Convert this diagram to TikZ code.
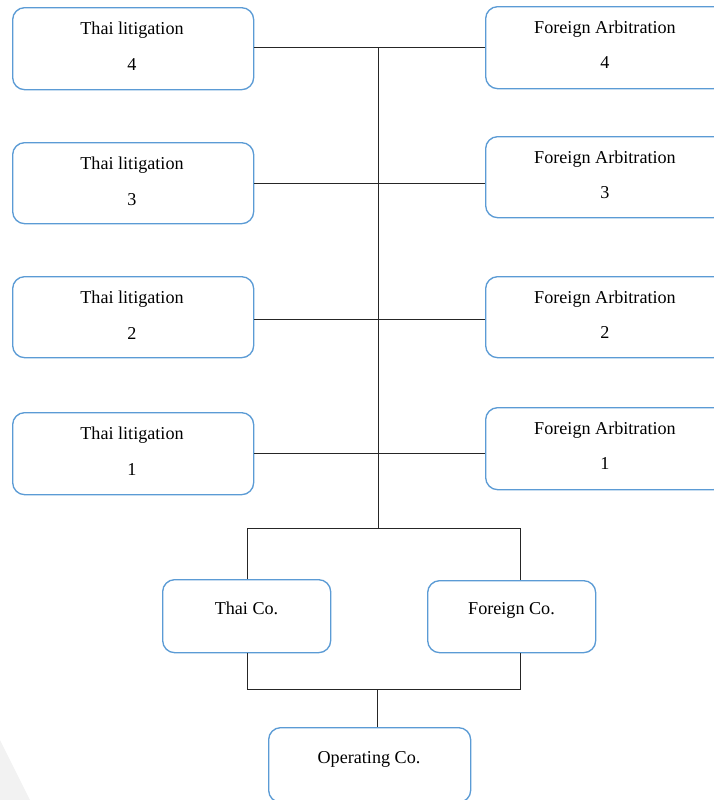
\documentclass[tikz,border=0pt]{standalone}
\usepackage{fontspec}
\setmainfont{Liberation Serif}
\definecolor{boxblue}{HTML}{5B9BD5}
\definecolor{bggrey}{HTML}{F2F2F2}
\begin{document}
\begin{tikzpicture}[x=0.75pt,y=-0.75pt,
  box/.style={draw=boxblue, line width=1pt, rounded corners=9pt, fill=white, inner sep=0pt, anchor=north west},
  txt/.style={anchor=base, inner sep=0pt, font=\fontsize{13.6pt}{16pt}\selectfont, text=black},
  conn/.style={draw=black!85, line width=0.75pt}]
\useasboundingbox (0,0) rectangle (714,800);
\clip (0,0) rectangle (714,800);
\fill[bggrey] (0,740) -- (30,800) -- (0,800) -- cycle;
% left boxes
\node[box, minimum width=180.75pt, minimum height=61.5pt] (tl4) at (12,7) {};
\node[box, minimum width=180.75pt, minimum height=60.75pt] (tl3) at (12,142) {};
\node[box, minimum width=180.75pt, minimum height=60.75pt] (tl2) at (12,276) {};
\node[box, minimum width=180.75pt, minimum height=61.5pt] (tl1) at (12,412) {};
% right boxes
\node[box, minimum width=180pt, minimum height=61.5pt] (fa4) at (485,6) {};
\node[box, minimum width=180pt, minimum height=60.75pt] (fa3) at (485,136) {};
\node[box, minimum width=180pt, minimum height=60.75pt] (fa2) at (485,276) {};
\node[box, minimum width=180pt, minimum height=61.5pt] (fa1) at (485,407) {};
% company boxes
\node[box, minimum width=126pt, minimum height=54.75pt] (thai) at (162,579) {};
\node[box, minimum width=126pt, minimum height=54pt] (foreign) at (427,580) {};
\node[box, minimum width=151.5pt, minimum height=56pt] (oper) at (268,727) {};
% texts
\node[txt] (tl4a) at (132,34.3) {Thai litigation};
\node[txt] (tl4b) at (132,70) {4};
\node[txt] (tl3a) at (132,169.3) {Thai litigation};
\node[txt] (tl3b) at (132,205) {3};
\node[txt] (tl2a) at (132,303.3) {Thai litigation};
\node[txt] (tl2b) at (132,339) {2};
\node[txt] (tl1a) at (132,439.3) {Thai litigation};
\node[txt] (tl1b) at (132,475) {1};
\node[txt] (fa4a) at (605,33.3) {Foreign Arbitration};
\node[txt] (fa4b) at (605,68.5) {4};
\node[txt] (fa3a) at (605,163.3) {Foreign Arbitration};
\node[txt] (fa3b) at (605,198.5) {3};
\node[txt] (fa2a) at (605,303.3) {Foreign Arbitration};
\node[txt] (fa2b) at (605,338.5) {2};
\node[txt] (fa1a) at (605,434.3) {Foreign Arbitration};
\node[txt] (fa1b) at (605,469.5) {1};
\node[txt] (thait) at (246.5,614) {Thai Co.};
\node[txt] (foreignt) at (511.5,614) {Foreign Co.};
\node[txt] (opert) at (369,763.3) {Operating Co.};
% connectors
\coordinate (trunktop) at (378,47);
\coordinate (trunkbot) at (378,528);
\coordinate (busl) at (247,528);
\coordinate (busr) at (520,528);
\coordinate (lbusl) at (247,689);
\coordinate (lbusr) at (520,689);
\coordinate (lbusm) at (377,689);
\draw[conn] (tl4.east |- 0,47) -- (fa4.west |- 0,47);
\draw[conn] (tl3.east |- 0,183) -- (fa3.west |- 0,183);
\draw[conn] (tl2.east |- 0,319) -- (fa2.west |- 0,319);
\draw[conn] (tl1.east |- 0,453) -- (fa1.west |- 0,453);
\draw[conn] (trunktop) -- (trunkbot);
\draw[conn] (thai.north -| busl) -- (busl) -- (busr) -- (foreign.north -| busr);
\draw[conn] (thai.south -| lbusl) -- (lbusl) -- (lbusr) -- (foreign.south -| lbusr);
\draw[conn] (lbusm) -- (oper.north -| lbusm);
\end{tikzpicture}
\end{document}
